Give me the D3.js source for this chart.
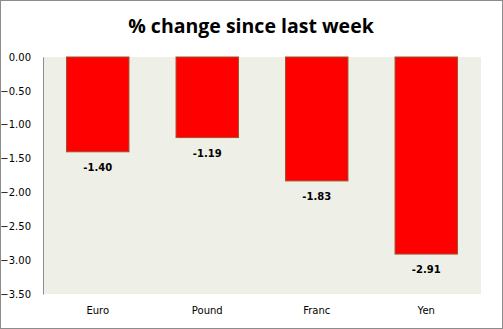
<!DOCTYPE html>
<html><head><meta charset="utf-8">
<script src="https://cdn.jsdelivr.net/npm/d3@7"></script>
<style>body{margin:0;background:#fff}svg{display:block}</style>
</head><body>
<script>
const categories = ["Euro", "Pound", "Franc", "Yen"];
const values = [-1.40, -1.19, -1.83, -2.91];
const yTicks = [0, -0.5, -1.0, -1.5, -2.0, -2.5, -3.0, -3.5];
const title = "% change since last week";

const W = 503, H = 329;
const m = {left: 43, right: 22, top: 57, bottom: 35};
const svg = d3.select("body").append("svg").attr("width", W).attr("height", H);
svg.append("rect").attr("x", 0.5).attr("y", 0.5).attr("width", W - 1).attr("height", H - 1)
  .attr("fill", "#fff").attr("stroke", "#8c8c8c");

const x = d3.scaleBand().domain(categories).range([m.left, W - m.right]).paddingInner(0.43).paddingOuter(0.215);
const y = d3.scaleLinear().domain([0, -3.5]).range([m.top, H - m.bottom]);

svg.append("rect").attr("x", m.left).attr("y", m.top).attr("width", W - m.right - m.left)
  .attr("height", H - m.bottom - m.top).attr("fill", "#eef0e7");

svg.append("text").attr("x", 251).attr("y", 33).attr("text-anchor", "middle")
  .attr("font-family", "'Open Sans', sans-serif").attr("font-weight", 700).attr("font-size", 19.5)
  .attr("fill", "#000").text(title);

svg.selectAll(".bar").data(values).join("rect")
  .attr("x", (d, i) => x(categories[i]))
  .attr("y", y(0))
  .attr("width", x.bandwidth())
  .attr("height", d => y(d) - y(0))
  .attr("fill", "#ff0000").attr("stroke", "#a0522d").attr("stroke-width", 1);

svg.selectAll(".lbl").data(values).join("text")
  .attr("x", (d, i) => x(categories[i]) + x.bandwidth() / 2)
  .attr("y", d => y(d) + 19)
  .attr("text-anchor", "middle")
  .attr("font-family", "'DejaVu Sans', Verdana, sans-serif").attr("font-weight", 700).attr("font-size", 10)
  .text(d => d.toFixed(2));

const yAxis = d3.axisLeft(y).tickValues(yTicks).tickFormat(d3.format(".2f")).tickSize(0).tickPadding(12);
const ga = svg.append("g").attr("transform", `translate(${m.left},0)`).call(yAxis);
ga.select(".domain").attr("stroke", "#8c8c8c");
ga.selectAll("text").attr("font-family", "'DejaVu Sans', Verdana, sans-serif").attr("font-size", 10).attr("fill", "#000");

const xAxis = d3.axisBottom(x).tickSize(0).tickPadding(13);
const gx = svg.append("g").attr("transform", `translate(0,${H - m.bottom})`).call(xAxis);
gx.select(".domain").remove();
gx.selectAll("text").attr("font-family", "'DejaVu Sans', Verdana, sans-serif").attr("font-size", 10).attr("fill", "#000");
</script>
</body></html>
